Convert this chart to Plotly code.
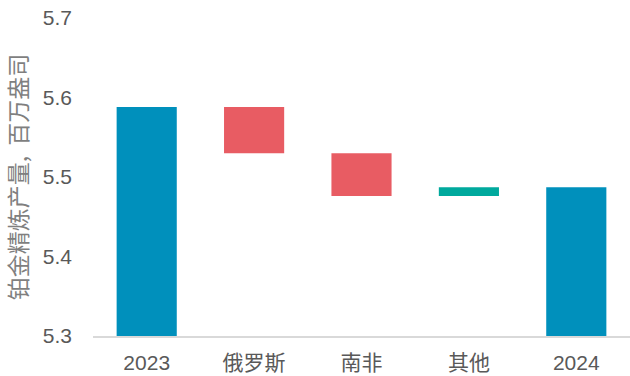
import plotly.graph_objects as go

categories = ["2023", "俄罗斯", "南非", "其他", "2024"]
values = [5.588, -0.058, -0.054, 0.011, 5.487]
measures = ["absolute", "relative", "relative", "relative", "total"]
y_ticks = [5.3, 5.4, 5.5, 5.6, 5.7]

FONT = "Liberation Sans, Arial, Noto Sans CJK SC, sans-serif"

fig = go.Figure(go.Waterfall(
    x=categories,
    y=values,
    measure=measures,
    increasing=dict(marker=dict(color="#00A99D")),
    decreasing=dict(marker=dict(color="#E85C63")),
    totals=dict(marker=dict(color="#0090BC")),
    connector=dict(visible=False),
    textposition="none",
    hoverinfo="x+y",
))

fig.update_layout(
    width=630, height=376,
    margin=dict(l=93, r=0, t=18, b=40),
    paper_bgcolor="white", plot_bgcolor="white",
    showlegend=False,
    waterfallgap=0.44,
    font=dict(family=FONT, color="#595959"),
    xaxis=dict(
        showline=True, linecolor="#D9D9D9", linewidth=1.5,
        ticks="", tickfont=dict(size=21, color="#595959"),
        ticklabelstandoff=7,
        showgrid=False,
    ),
    yaxis=dict(
        range=[5.3, 5.7], tickvals=y_ticks, ticktext=[f"{v:.1f}" for v in y_ticks],
        showgrid=False, zeroline=False, showline=False,
        ticks="", ticklabelstandoff=20,
        tickfont=dict(size=21, color="#595959"),
        title=dict(text="铂金精炼产量,  百万盎司", font=dict(size=23, color="#7F7F7F",
                   family="Noto Sans CJK SC, sans-serif"), standoff=12),
    ),
)

fig.write_html("out.html")
